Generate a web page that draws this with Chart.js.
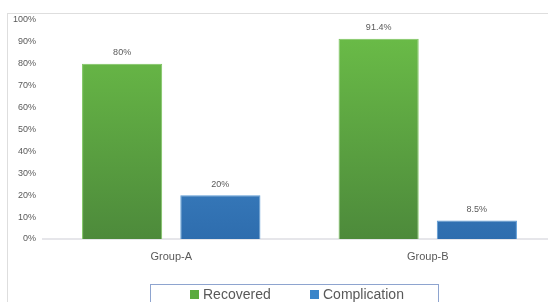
<!DOCTYPE html>
<html><head><meta charset="utf-8">
<script src="https://cdn.jsdelivr.net/npm/chart.js@4/dist/chart.umd.min.js"></script>
<style>
html,body{margin:0;padding:0;background:#fff;overflow:hidden;width:548px;height:302px;}
#frame{position:absolute;left:7px;top:13px;width:560px;height:320px;border:1px solid #dedede;box-sizing:border-box;}
#wrap{position:absolute;left:0;top:0;width:556px;height:310px;}
</style></head><body>
<div id="frame"></div>
<div id="wrap"><canvas id="c" width="556" height="310"></canvas></div>
<script>
const categories = ["Group-A", "Group-B"];
const recovered = [80, 91.4];
const complication = [20, 8.5];
const seriesNames = ["Recovered", "Complication"];
const yTicks = [0,10,20,30,40,50,60,70,80,90,100];

function grad(ctx, area, top, bottom){
  const g = ctx.createLinearGradient(0, area.top, 0, area.bottom);
  g.addColorStop(0, top); g.addColorStop(1, bottom); return g;
}
const greenG = (c)=>{const a=c.chart.chartArea; if(!a) return '#5da743'; return grad(c.chart.ctx,a,'#6cbf48','#4d8a3b');};
const blueG = (c)=>{const a=c.chart.chartArea; if(!a) return '#3f85c6'; return grad(c.chart.ctx,a,'#4f9bdc','#2e6dae');};

const labelsPlugin = {
  id:'vals',
  afterDatasetsDraw(chart){
    const ctx = chart.ctx;
    ctx.save();
    ctx.font = '9px "Liberation Sans", Arial, sans-serif';
    ctx.fillStyle = '#595959';
    ctx.textAlign = 'center'; ctx.textBaseline = 'middle';
    chart.data.datasets.forEach((ds,i)=>{
      chart.getDatasetMeta(i).data.forEach((bar,j)=>{
        ctx.fillText(ds.data[j] + '%', bar.x, bar.y - 11);
      });
    });
    ctx.restore();
  }
};
const legendPlugin = {
  id:'leg',
  afterDraw(chart){
    const ctx = chart.ctx;
    ctx.save();
    ctx.strokeStyle = '#8ea4cf'; ctx.lineWidth = 1;
    ctx.strokeRect(150.5, 284.5, 288, 40);
    ctx.font = '14px "Liberation Sans", Arial, sans-serif';
    ctx.textBaseline = 'middle'; ctx.textAlign = 'left';
    const xs = [190, 310];
    const cols = ['#5aab3f', '#3a85c9'];
    chart.data.datasets.forEach((ds,i)=>{
      ctx.fillStyle = cols[i];
      ctx.fillRect(xs[i], 290, 9, 9);
      ctx.fillStyle = '#595959';
      ctx.fillText(ds.label, xs[i] + 13, 295);
    });
    ctx.restore();
  }
};

new Chart(document.getElementById('c'), {
  type:'bar',
  data:{
    labels: categories,
    datasets:[
      {label: seriesNames[0], data: recovered, backgroundColor: greenG, borderColor:'#7cc45e', borderWidth:1},
      {label: seriesNames[1], data: complication, backgroundColor: blueG, borderColor:'#5b9bd5', borderWidth:1}
    ]
  },
  options:{
    responsive:false, animation:false, devicePixelRatio:1,
    layout:{padding:{top:20,left:0,right:0,bottom:48}},
    datasets:{bar:{categoryPercentage:0.766, barPercentage:0.816}},
    plugins:{legend:{display:false}, tooltip:{enabled:false}},
    scales:{
      x:{
        grid:{display:false, drawTicks:false},
        border:{display:true, color:'#e6e6ea', width:2},
        ticks:{color:'#595959', font:{family:'"Liberation Sans", Arial, sans-serif', size:11}, padding:11},
        afterFit(s){ s.height = 23; }
      },
      y:{
        min:0, max:100,
        afterBuildTicks(s){ s.ticks = yTicks.map(v=>({value:v})); },
        grid:{display:false, drawTicks:false},
        border:{display:false},
        ticks:{color:'#595959', font:{family:'"Liberation Sans", Arial, sans-serif', size:9}, padding:7, callback:v=>v+'%'},
        afterFit(s){ s.width = 43; }
      }
    }
  },
  plugins:[labelsPlugin, legendPlugin]
});
</script>
</body></html>
